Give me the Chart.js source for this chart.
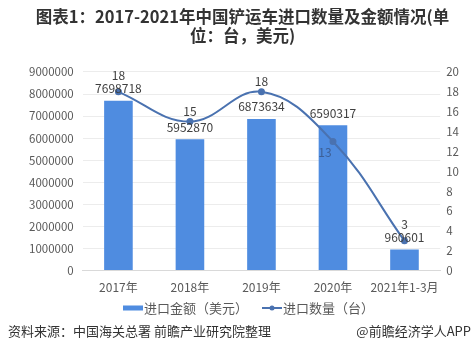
<!DOCTYPE html>
<html>
<head>
<meta charset="utf-8">
<script src="https://cdn.jsdelivr.net/npm/chart.js@4"></script>
<style>
  body { margin: 0; background: #fff; }
  #wrap { width: 473px; height: 360px; position: relative; }
</style>
</head>
<body>
<div id="wrap"><canvas id="myChart" width="473" height="360"></canvas></div>
<script>
const categories = ["2017年", "2018年", "2019年", "2020年", "2021年1-3月"];
const amountUSD = [7698718, 5952870, 6873634, 6590317, 960601];
const quantity = [18, 15, 18, 13, 3];
const leftTicks = [0, 1000000, 2000000, 3000000, 4000000, 5000000, 6000000, 7000000, 8000000, 9000000];
const rightTicks = [0, 2, 4, 6, 8, 10, 12, 14, 16, 18, 20];

const FONT = "'Noto Sans CJK SC', 'Noto Sans', sans-serif";
const barColor = "#4f8ce0";
const lineColor = "#4a72b0";

// value labels, legend and footer
const extras = {
  id: "extras",
  afterDatasetsDraw(chart) {
    const ctx = chart.ctx;
    const bars = chart.getDatasetMeta(0).data;
    const pts = chart.getDatasetMeta(1).data;
    ctx.save();
    ctx.font = "12px " + FONT;
    ctx.fillStyle = "#404040";
    ctx.textAlign = "center";
    ctx.textBaseline = "middle";
    bars.forEach((b, i) => {
      const by = b.y - 12;
      ctx.fillText(String(amountUSD[i]), b.x, by);
      const p = pts[i];
      if (p.y > b.y) {
        ctx.fillStyle = "#3d5f95";
        ctx.fillText(String(quantity[i]), p.x - 8, p.y + 11);
        ctx.fillStyle = "#404040";
      } else {
        ctx.fillText(String(quantity[i]), p.x, Math.min(p.y - 10, by - 13));
      }
    });
    ctx.restore();
  },
  afterDraw(chart) {
    const ctx = chart.ctx;
    ctx.save();
    // legend
    const ly = 308;
    ctx.font = "13px " + FONT;
    ctx.textBaseline = "middle";
    ctx.textAlign = "left";
    ctx.fillStyle = barColor;
    ctx.fillRect(123, ly - 2.5, 20, 5);
    ctx.fillStyle = "#595959";
    ctx.fillText("进口金额（美元）", 144, ly);
    ctx.strokeStyle = lineColor;
    ctx.lineWidth = 2;
    ctx.beginPath();
    ctx.moveTo(262, ly);
    ctx.lineTo(282, ly);
    ctx.stroke();
    ctx.fillStyle = lineColor;
    ctx.beginPath();
    ctx.arc(272, ly, 2.5, 0, Math.PI * 2);
    ctx.fill();
    ctx.fillStyle = "#595959";
    ctx.fillText("进口数量（台）", 283, ly);
    // footer
    ctx.fillStyle = "#333";
    ctx.fillText("资料来源：中国海关总署 前瞻产业研究院整理", 8, 331);
    ctx.textAlign = "right";
    ctx.fillText("@前瞻经济学人APP", 471, 331);
    ctx.restore();
  }
};

new Chart(document.getElementById("myChart").getContext("2d"), {
  data: {
    labels: categories,
    datasets: [
      {
        type: "bar",
        label: "进口金额（美元）",
        data: amountUSD,
        backgroundColor: barColor,
        yAxisID: "y",
        barPercentage: 0.4,
        categoryPercentage: 1,
        order: 2
      },
      {
        type: "line",
        label: "进口数量（台）",
        data: quantity,
        borderColor: lineColor,
        backgroundColor: lineColor,
        borderWidth: 2,
        pointRadius: 2.5,
        tension: 0.4,
        yAxisID: "y1",
        order: 1
      }
    ]
  },
  options: {
    responsive: false,
    animation: false,
    layout: { padding: { left: 20, right: 8, top: 0, bottom: 63 } },
    plugins: {
      legend: { display: false },
      tooltip: { enabled: false },
      title: {
        display: true,
        text: ["图表1：2017-2021年中国铲运车进口数量及金额情况(单", "位：台，美元)"],
        color: "#333",
        font: { family: FONT, size: 16.5, weight: "bold", lineHeight: 1.18 },
        padding: { top: 7, bottom: 26 }
      }
    },
    scales: {
      x: {
        grid: { display: false },
        border: { color: "#d9d9d9" },
        ticks: { color: "#595959", font: { family: FONT, size: 12 }, maxRotation: 0, autoSkip: false, padding: 2 }
      },
      y: {
        position: "left",
        min: 0,
        max: 9000000,
        afterBuildTicks: axis => { axis.ticks = leftTicks.map(v => ({ value: v })); },
        grid: { color: "#ececec", drawTicks: false },
        border: { display: false },
        ticks: { color: "#595959", font: { family: FONT, size: 11.5 }, padding: 9, callback: v => String(v) }
      },
      y1: {
        position: "right",
        min: 0,
        max: 20,
        afterBuildTicks: axis => { axis.ticks = rightTicks.map(v => ({ value: v })); },
        grid: { display: false, drawTicks: false },
        border: { display: false },
        ticks: { color: "#595959", font: { family: FONT, size: 11.5 }, padding: 6, callback: v => String(v) }
      }
    }
  },
  plugins: [extras]
});
</script>
</body>
</html>
